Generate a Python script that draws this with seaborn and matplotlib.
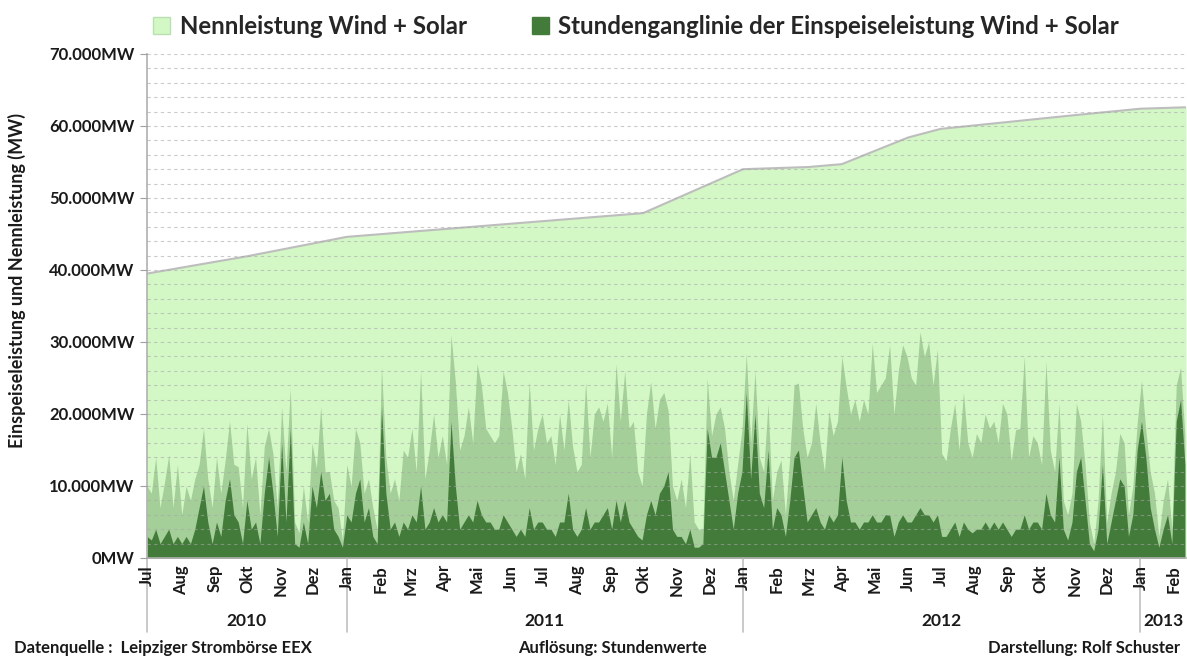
import numpy as np
import pandas as pd
import matplotlib.pyplot as plt
import matplotlib.dates as mdates
import matplotlib.transforms as mtransforms
import seaborn as sns
from matplotlib.patches import Patch

# Nennleistung (installed capacity), MW
cap_dates = ["2010-07-01", "2010-10-01", "2011-01-01", "2011-10-01", "2012-01-01",
             "2012-03-01", "2012-04-01", "2012-06-01", "2012-07-01", "2012-11-01",
             "2013-01-01", "2013-02-12"]
cap_mw = [39500, 41900, 44600, 47900, 54000, 54300, 54700, 58400, 59600, 61500,
          62400, 62600]

feed_start = "2010-07-01"
feed_step = "4D"
peak_k = [10, 9, 14, 7, 10.4, 14.3, 7, 13, 6, 10, 8, 11, 13, 18, 11, 7, 14, 9, 13.6, 19,
          13, 12.7, 7, 18.7, 11, 14, 6, 15.5, 18, 14.5, 7, 21, 12, 23.6, 5, 3.5, 10, 5, 16, 12.5,
          21, 12, 12, 8, 7, 2.5, 13, 10, 18, 16, 9, 11, 7, 4, 26.5, 14, 9, 11, 8, 15,
          14, 18, 12, 26, 11, 15, 20, 14, 17, 13, 31, 24.5, 15, 17, 21, 16, 27, 24, 18, 17,
          16, 17, 26, 23, 18, 12, 14.5, 11, 24.5, 15, 18, 20, 16, 17, 13, 20, 15, 22, 15.5, 12,
          13, 24.5, 14, 20, 21, 19, 21.5, 14, 27, 19, 26, 18, 19, 12, 10, 20, 24.5, 18, 22, 23,
          20.5, 10, 8, 11, 7, 14.5, 5, 4, 4, 25, 17, 20, 21, 18, 12, 8, 13, 17.8, 28.4, 16,
          26, 14, 12, 21.5, 8, 12, 13.6, 6, 14, 24, 24.3, 18, 14, 16, 21.5, 16, 12, 20.5, 17, 19,
          28, 23.8, 20, 22, 19, 22, 20, 29.8, 23, 24, 25, 29.6, 20, 26, 29.6, 28, 25, 24, 31.4, 28,
          30, 24, 29, 14.5, 13.5, 18, 21.5, 15, 23, 16, 14, 17.3, 16, 20, 18, 19, 16, 21.5, 20, 13.5,
          17.8, 18, 28, 14, 17, 16, 13, 27.3, 15, 12, 21.5, 8, 6, 9, 21.5, 19, 13, 5, 2, 8,
          20, 5, 9, 12, 17.3, 16, 6, 10, 18.7, 24.7, 17.8, 12, 9, 3, 8, 11, 4, 24, 26.5, 17]
base_k = [3, 2.5, 4, 2, 3, 4, 2, 3, 2, 3, 2, 4, 7, 10, 5, 2, 5, 3, 8, 11,
          6, 5, 2, 8, 4, 5, 2, 9, 14, 9, 3, 16, 5, 18, 2, 1.5, 5, 2, 10, 7,
          12, 8, 9, 4, 3, 1.5, 6, 5, 9, 11, 5, 7, 3, 2, 21, 9, 4, 5, 3, 5,
          4, 6, 5, 10, 4, 5, 7, 5, 6, 5, 19, 10, 4, 5, 6, 5, 8, 6, 5, 5,
          4, 4, 6, 5, 4, 3, 4, 3, 7, 4, 5, 5, 4, 4, 3, 5, 5, 9, 4, 3,
          4, 7, 4, 5, 5, 6, 7, 4, 8, 5, 8, 5, 4, 3, 2.5, 6, 8, 6, 9, 10,
          12, 4, 3, 3, 2, 4, 1.5, 1.5, 2, 18, 14, 14, 16, 12, 8, 4, 9, 12, 23, 11,
          20, 9, 7, 15, 4, 7, 6, 3, 8, 14, 15, 10, 5, 6, 7, 5, 4, 6, 5, 6,
          14, 8, 5, 5, 4, 5, 5, 6, 5, 5, 6, 6, 3, 5, 6, 5, 5, 6, 7, 6,
          6, 5, 6, 3, 3, 4, 5, 3, 5, 4, 3.5, 4, 4, 5, 4, 5, 4, 5, 4, 3,
          4, 4, 6, 4, 5, 5, 4, 9, 6, 5, 14, 4, 2.5, 5, 12, 14, 8, 2, 1, 4,
          13, 2, 5, 8, 11, 10, 3, 6, 15, 19, 14, 7, 4, 1.5, 4, 6, 2, 19, 22, 13]

month_names = ["Jan", "Feb", "Mrz", "Apr", "Mai", "Jun", "Jul", "Aug", "Sep", "Okt", "Nov", "Dez"]
years = [2010, 2011, 2012, 2013]

light_green = "#d3f8c6"
dark_green = "#437b3a"

cap = pd.DataFrame({"date": pd.to_datetime(cap_dates), "mw": cap_mw})
feed = pd.DataFrame({"date": pd.date_range(feed_start, periods=len(peak_k), freq=feed_step),
                     "peak": np.array(peak_k) * 1000, "base": np.array(base_k) * 1000})

sns.set_style("white")
plt.rcParams["font.family"] = ["Lato", "DejaVu Sans"]
plt.rcParams["font.weight"] = "bold"

fig = plt.figure(figsize=(11.87, 6.59), dpi=100)
ax = fig.add_axes([147 / 1187, 1 - 558 / 659, (1186 - 147) / 1187, 504 / 659])

ax.fill_between(cap["date"], cap["mw"], color=light_green, lw=0, zorder=1)
sns.lineplot(data=cap, x="date", y="mw", color="#bdbdbd", lw=1.5, ax=ax, zorder=2)
# daily peaks (solar) show as a lighter haze, the hourly base as solid green
ax.fill_between(feed["date"], feed["peak"], color=dark_green, alpha=0.32, lw=0, zorder=1.2)
ax.fill_between(feed["date"], feed["base"], color=dark_green, lw=0, zorder=1.3)

x0 = pd.Timestamp("2010-07-01")
x1 = pd.Timestamp("2013-02-12")
ax.set_xlim(x0, x1)
ax.set_ylim(0, 70000)

# y axis
ax.set_yticks(range(0, 70001, 10000))
ax.set_yticks(range(0, 70001, 2000), minor=True)
ax.set_yticklabels([f"{v:,.0f}".replace(",", ".") + "MW" for v in range(0, 70001, 10000)],
                   fontsize=12, fontweight="bold", color="#1a1a1a")
ax.tick_params(axis="y", which="major", direction="out", length=5, color="#a0a0a0",
               left=True, pad=4)
ax.tick_params(axis="y", which="minor", length=0)
ax.set_axisbelow(False)
ax.grid(axis="y", which="both", color="#a8a8a8", lw=0.8, ls=(0, (3, 3)), alpha=0.6)
ax.set_ylabel("")
ax.set_xlabel("")

# x axis: months
months = pd.date_range(x0, x1, freq="MS")
ax.set_xticks(months)
ax.set_xticklabels([month_names[d.month - 1] for d in months], rotation=90,
                   fontsize=12, fontweight="bold", color="#1a1a1a")
ax.tick_params(axis="x", length=0, pad=5)

for s in ["top", "right"]:
    ax.spines[s].set_visible(False)
for s in ["left", "bottom"]:
    ax.spines[s].set_color("#b0b0b0")
    ax.spines[s].set_linewidth(1.2)

trans = mtransforms.blended_transform_factory(ax.transData, ax.transAxes)
year_bounds = [x0, pd.Timestamp("2011-01-01"), pd.Timestamp("2012-01-01"),
               pd.Timestamp("2013-01-01"), x1]
for b in year_bounds[:-1]:
    ax.plot([b, b], [0, -0.147], transform=trans, color="#c0c0c0", lw=1.2, clip_on=False)
for y, a, b in zip(years, year_bounds[:-1], year_bounds[1:]):
    mid = a + (b - a) / 2
    ax.text(mid, -0.125, str(y), transform=trans, ha="center", va="center",
            fontsize=12.5, fontweight="bold", color="#1a1a1a")

fig.text(17 / 1187, 1 - 281 / 659, "Einspeiseleistung und Nennleistung (MW)", rotation=90,
         ha="center", va="center", fontsize=13, fontweight="bold", color="#1a1a1a")

handles = [Patch(facecolor=light_green, edgecolor="#b8e0b0", label="Nennleistung Wind + Solar"),
           Patch(facecolor=dark_green, edgecolor=dark_green,
                 label="Stundenganglinie der Einspeiseleistung Wind + Solar")]
fig.legend(handles=handles, loc="upper center", bbox_to_anchor=(0.536, 1.01), ncol=2,
           frameon=False, handlelength=0.7, handleheight=0.7,
           handletextpad=0.4, columnspacing=2.7, prop={"weight": "bold", "size": 17.3})

fig.text(14 / 1187, 0.017, "Datenquelle :  Leipziger Strombörse EEX", ha="left", va="center",
         fontsize=12, fontweight="bold", color="#1a1a1a")
fig.text(612 / 1187, 0.017, "Auflösung: Stundenwerte", ha="center", va="center",
         fontsize=12, fontweight="bold", color="#1a1a1a")
fig.text(1180 / 1187, 0.017, "Darstellung: Rolf Schuster", ha="right", va="center",
         fontsize=12, fontweight="bold", color="#1a1a1a")

fig.savefig("out.png", dpi=100)
